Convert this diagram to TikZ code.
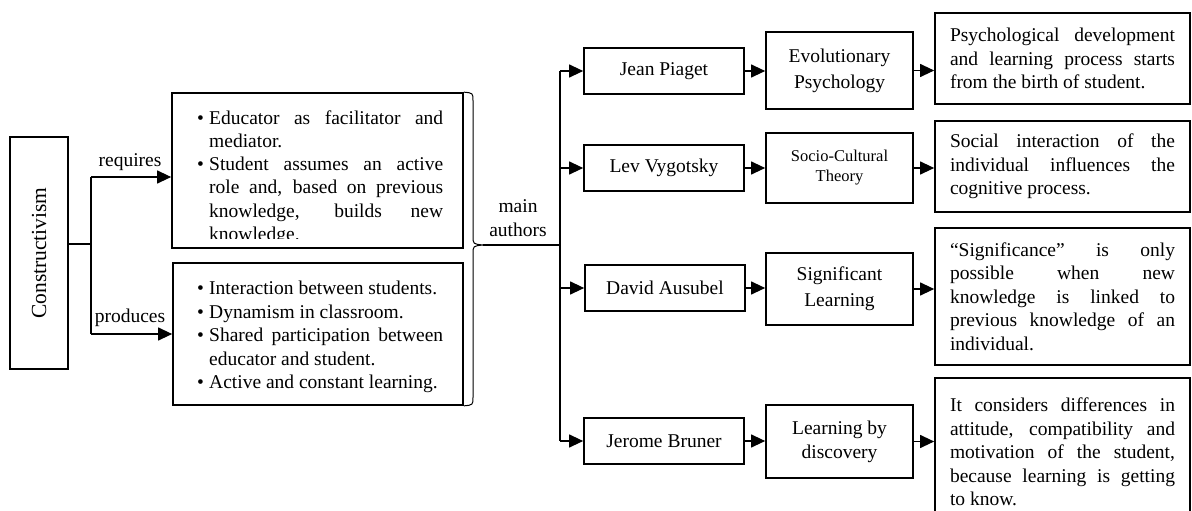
\documentclass[tikz,border=0pt]{standalone}
\usepackage{fontspec}
\setmainfont{Liberation Serif}
\usetikzlibrary{arrows.meta, positioning}

\newcommand{\bitem}[1]{\par\noindent\hangindent=12pt\hangafter=1\makebox[12pt][l]{\textbullet}#1}

\begin{document}
\begin{tikzpicture}[x=1pt, y=-1pt, font=\fontsize{19.5}{23.5}\selectfont,
    box/.style={draw, line width=1.7pt, inner sep=0pt, align=center},
    link/.style={line width=1.2pt},
    arr/.style={link, -{Triangle[length=14pt, width=13pt]}}]

    \useasboundingbox (0,0) rectangle (1192,511);

    % left side
    \node[box, minimum width=58pt, minimum height=232pt] (cons) at (39,253) {};
    \node[rotate=90, font=\fontsize{21.5}{24}\selectfont] (constxt) at (cons) {Constructivism};

    \node[box, minimum width=291pt, minimum height=155pt] (req) at (317.5,170.5) {};
    \begin{scope}
        \clip (req.north west) rectangle (req.east |- 0,238.5);
        \node[anchor=north west, inner sep=0pt, text width=246pt, align=justify,
              font=\fontsize{19.5}{23.2}\selectfont] (reqtxt) at (197,101)
            {\bitem{\strut Educator as facilitator and\linebreak mediator.}
             \bitem{Student assumes an active\linebreak role and, based on previous\linebreak knowledge, builds new\linebreak knowledge.}\par};
    \end{scope}

    \node[box, minimum width=290pt, minimum height=142pt] (prod) at (318,334) {};
    \node[anchor=north west, inner sep=0pt, text width=246pt, align=justify] (prodtxt) at (197,271)
        {\bitem{\strut Interaction between students.}
         \bitem{Dynamism in classroom.}
         \bitem{Shared participation between\linebreak educator and student.}
         \bitem{Active and constant learning.}\par};

    \coordinate (fork) at (91,244);
    \draw[link] (cons.east |- fork) -- (fork);
    \draw[link] (fork |- 0,177) -- (fork |- prod.west);
    \draw[arr] (fork |- 0,177) -- (req.west |- 0,177);
    \draw[arr] (fork |- prod.west) -- (prod.west);
    \node (reqlbl) at (130,162) {requires};
    \node (prodlbl) at (130,318) {produces};

    % brace and trunk
    \coordinate (tip) at (483,245);
    \coordinate (split) at (560,245);
    \draw[line width=1pt] (req.north east) .. controls (473,93) .. (473,101) -- (473,236)
        .. controls (473,244) .. (tip) .. controls (473,246) .. (473,254) -- (473,397)
        .. controls (473,405) .. (prod.south east);
    \draw[link] (tip) -- (split);
    \node[align=center] (mainlbl) at (518,218) {main\\authors};

    % authors
    \node[box, minimum width=160pt, minimum height=46pt] (piaget)   at (664,71)  {Jean Piaget};
    \node[box, minimum width=160pt, minimum height=46pt] (vygotsky) at (664,168) {Lev Vygotsky};
    \node[box, minimum width=160pt, minimum height=46pt] (ausubel)  at (665,288) {David Ausubel};
    \node[box, minimum width=160pt, minimum height=46pt] (bruner)   at (664,441) {Jerome Bruner};

    % theories
    \node[box, minimum width=147pt, minimum height=77pt, font=\fontsize{19.5}{26}\selectfont] (evol) at (839.5,70.5) {Evolutionary\\Psychology};
    \node[box, minimum width=147pt, minimum height=70pt, font=\fontsize{16.5}{20}\selectfont] (socio) at (839.5,168) {Socio-Cultural\\Theory};
    \node[box, minimum width=147pt, minimum height=72pt, font=\fontsize{19.5}{26}\selectfont] (signif) at (839.5,289) {Significant\\Learning};
    \node[box, minimum width=147pt, minimum height=73pt, font=\fontsize{19.5}{24}\selectfont] (discov) at (839.5,441.5) {Learning by\\discovery};

    % descriptions
    \node[box, minimum width=255pt, minimum height=91pt, text width=225pt, align=justify] (dsc1) at (1062.5,58.5)
        {Psychological development\linebreak and learning process starts\linebreak from the birth of student.};
    \node[box, minimum width=255pt, minimum height=91pt, text width=225pt, align=justify] (dsc2) at (1062.5,166.5)
        {Social interaction of the\linebreak individual influences the\linebreak cognitive process.};
    \node[box, minimum width=255pt, minimum height=137pt, text width=225pt, align=justify] (dsc3) at (1062.5,296.5)
        {“Significance” is only\linebreak possible when new\linebreak knowledge is linked to\linebreak previous knowledge of an\linebreak individual.};
    \node[box, minimum width=255pt, minimum height=148pt, text width=225pt, align=justify] (dsc4) at (1062.5,452)
        {It considers differences in\linebreak attitude, compatibility and\linebreak motivation of the student,\linebreak because learning is getting\linebreak to know.};

    \draw[link] (split |- piaget.west) -- (split |- bruner.west);
    \foreach \a/\t/\d in {piaget/evol/dsc1, vygotsky/socio/dsc2, ausubel/signif/dsc3, bruner/discov/dsc4} {
        \draw[arr] (split |- \a.west) -- (\a.west);
        \draw[arr] (\a.east) -- (\a.east -| \t.west);
        \draw[arr] (\t.east) -- (\t.east -| \d.west);
    }
\end{tikzpicture}
\end{document}
